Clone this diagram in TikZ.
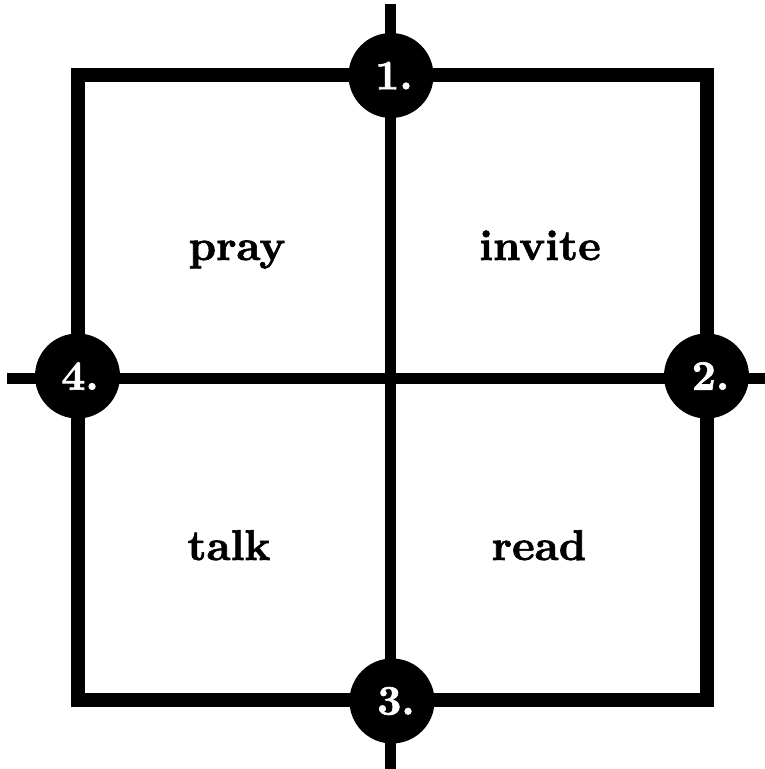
\documentclass[tikz,border=0pt]{standalone}
\usepackage{fontspec}
\newfontfamily\heavy{lmroman10-bold.otf}[FakeBold=1.5]
\begin{document}
\begin{tikzpicture}[x=1pt,y=1pt,
  frame/.style={line width=14pt},
  cross/.style={line width=11pt},
  badge/.style={circle,fill=black,minimum size=85pt,inner sep=0pt,text=white,font=\fontsize{42}{42}\selectfont\heavy},
  word/.style={anchor=base,font=\fontsize{43}{43}\selectfont\heavy}]
\useasboundingbox (0,0) rectangle (765,769);
\coordinate (nw) at (77.5,693.5);
\coordinate (ne) at (707,693.5);
\coordinate (se) at (707,69);
\coordinate (sw) at (77.5,69);
\coordinate (vt) at (390.5,765);
\coordinate (vb) at (390.5,0);
\coordinate (hl) at (7,390);
\coordinate (hr) at (765,390);
\draw[frame] (nw) -- (ne) -- (se) -- (sw) -- cycle;
\draw[cross] (vt) -- (vb);
\draw[cross] (hl) -- (hr);
\node[badge] (b1) at (391,693.5) {\kern6pt1.};
\node[badge] (b2) at (706.5,393) {\kern8pt2.};
\node[badge] (b3) at (392,68) {\kern8pt3.};
\node[badge] (b4) at (77.5,393) {\kern5pt4.};
\node[word] (pray) at (237,509) {pray};
\node[word] (invite) at (540,509) {invite};
\node[word] (talk) at (229,209) {talk};
\node[word] (read) at (539,209) {read};
\end{tikzpicture}
\end{document}
